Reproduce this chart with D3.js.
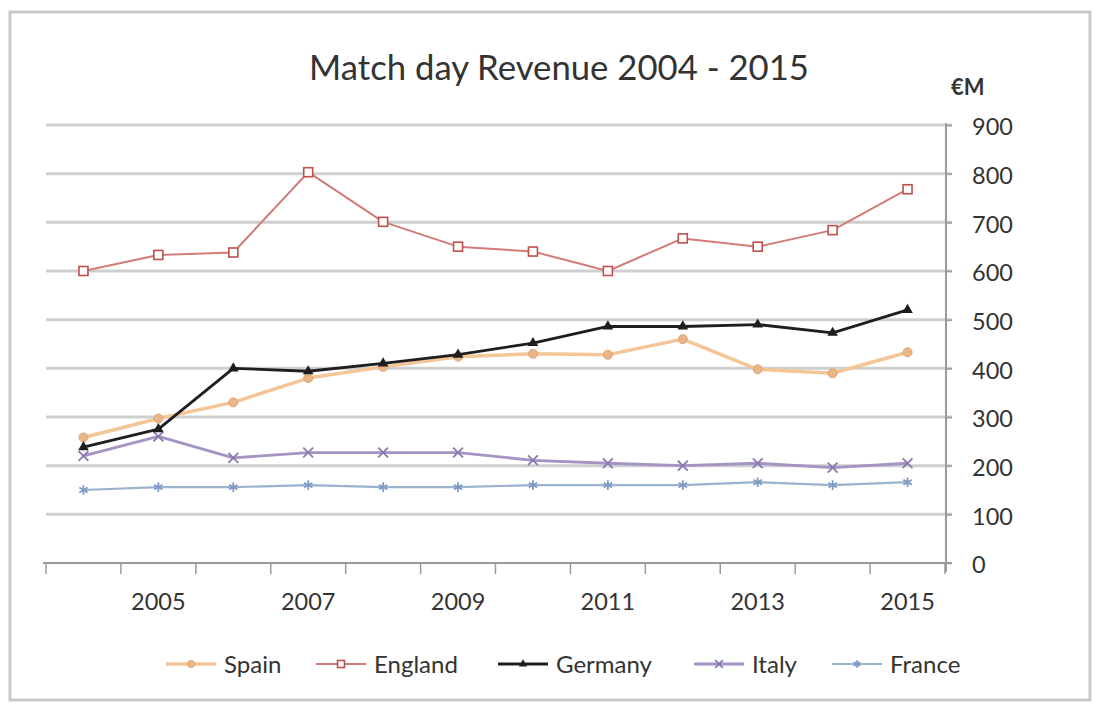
<!DOCTYPE html>
<html>
<head>
<meta charset="utf-8">
<script src="https://cdn.jsdelivr.net/npm/d3@7"></script>
<style>
  html, body { margin: 0; padding: 0; background: #fff; }
  svg { display: block; }
  text { font-family: Lato, "Open Sans", sans-serif; fill: #333; }
</style>
</head>
<body>
<svg id="chart" width="1101" height="705"></svg>
<script>
const years = [2004, 2005, 2006, 2007, 2008, 2009, 2010, 2011, 2012, 2013, 2014, 2015];
const xTickLabels = [2005, 2007, 2009, 2011, 2013, 2015];
const yTicks = [0, 100, 200, 300, 400, 500, 600, 700, 800, 900];

const spain   = [258, 297, 330, 380, 403, 424, 430, 428, 460, 398, 390, 433];
const england = [600, 633, 638, 803, 701, 650, 640, 600, 667, 650, 684, 768];
const germany = [238, 275, 400, 394, 410, 428, 452, 486, 486, 490, 473, 520];
const italy   = [220, 260, 216, 227, 227, 227, 211, 205, 200, 205, 196, 205];
const france  = [150, 156, 156, 160, 156, 156, 160, 160, 160, 166, 160, 166];

const seriesNames = ["Spain", "England", "Germany", "Italy", "France"];
const seriesValues = [spain, england, germany, italy, france];

const styles = {
  Spain:   { color: "#f3c597", width: 3.5, marker: "circle",   mfill: "#eab688", mstroke: "#dfa676" },
  England: { color: "#d27c7a", width: 2,   marker: "square",   mfill: "#ffffff", mstroke: "#c0504d" },
  Germany: { color: "#1e1e1e", width: 2.8, marker: "triangle", mfill: "#1e1e1e", mstroke: "#1e1e1e" },
  Italy:   { color: "#a493c4", width: 2.8, marker: "cross",    mfill: "#8a78b0", mstroke: "#8a78b0" },
  France:  { color: "#9cb2cf", width: 2.2, marker: "star",     mfill: "#7e9cc4", mstroke: "#7e9cc4" }
};

const svg = d3.select("#chart");

// outer border
svg.append("rect").attr("x", 10).attr("y", 12).attr("width", 1080).attr("height", 688)
  .attr("fill", "#fff").attr("stroke", "#c9c9c9").attr("stroke-width", 3);

const x = d3.scaleBand().domain(years).range([46, 945]).padding(0);
const y = d3.scaleLinear().domain([0, 900]).range([563, 125]);
const cx = d => x(d) + x.bandwidth() / 2;

// gridlines
svg.append("g").selectAll("line").data(yTicks.filter(t => t > 0)).join("line")
  .attr("x1", 46).attr("x2", 952)
  .attr("y1", d => y(d)).attr("y2", d => y(d))
  .attr("stroke", "#cfcfcf").attr("stroke-width", 3);

// right axis
const yAxis = d3.axisRight(y).tickValues(yTicks).tickSize(6).tickPadding(20);
const gy = svg.append("g").attr("transform", "translate(946,0)").call(yAxis);
gy.select(".domain").attr("stroke", "#9a9a9a").attr("stroke-width", 2).attr("d", "M0,123V572");
gy.selectAll(".tick line").attr("stroke", "#9a9a9a").attr("stroke-width", 1.5);
gy.selectAll(".tick text").attr("font-size", 23.5).attr("fill", "#444")
  .attr("font-family", "Lato, sans-serif").attr("dy", "0.42em");

// bottom axis
const xAxis = d3.axisBottom(x).tickValues(xTickLabels).tickSize(0).tickPadding(30);
const gx = svg.append("g").attr("transform", "translate(0,563)").call(xAxis);
gx.select(".domain").attr("stroke", "#9a9a9a").attr("stroke-width", 2).attr("d", "M43,0H952");
gx.selectAll(".tick text").attr("font-size", 23.5).attr("fill", "#444").attr("font-family", "Lato, sans-serif");
// category boundary ticks
const bounds = years.map(d => x(d)).concat([x.range()[1]]);
svg.append("g").selectAll("line").data(bounds).join("line")
  .attr("x1", d => d).attr("x2", d => d).attr("y1", 563).attr("y2", 574)
  .attr("stroke", "#9a9a9a").attr("stroke-width", 1.5);

// title
const title = svg.append("text").attr("x", 559).attr("y", 80).attr("text-anchor", "middle")
  .attr("font-size", 34).attr("fill", "#333").text("Match day Revenue 2004 - 2015");
const tw = title.node().getComputedTextLength();
if (tw > 0) title.attr("font-size", 34 * 500 / tw);

svg.append("text").attr("x", 951).attr("y", 95)
  .attr("font-size", 22).attr("font-weight", "bold").attr("fill", "#222").text("€M");

function drawMarker(g, type, px, py, st, s) {
  if (type === "square") {
    g.append("rect").attr("x", px - s/2).attr("y", py - s/2).attr("width", s).attr("height", s)
      .attr("fill", st.mfill).attr("stroke", st.mstroke).attr("stroke-width", 1.6);
  } else if (type === "circle") {
    g.append("circle").attr("cx", px).attr("cy", py).attr("r", s/2)
      .attr("fill", st.mfill).attr("stroke", st.mstroke).attr("stroke-width", 1);
  } else if (type === "triangle") {
    g.append("path").attr("d", d3.symbol(d3.symbolTriangle, s*s*0.6)())
      .attr("transform", `translate(${px},${py})`)
      .attr("fill", st.mfill);
  } else if (type === "cross") {
    g.append("path").attr("d", d3.symbol(d3.symbolX, s*s*0.8)())
      .attr("transform", `translate(${px},${py})`)
      .attr("fill", "none").attr("stroke", st.mstroke).attr("stroke-width", 1.8);
  } else if (type === "star") {
    g.append("path").attr("d", d3.symbol(d3.symbolAsterisk, s*s*0.8)())
      .attr("transform", `translate(${px},${py})`)
      .attr("fill", "none").attr("stroke", st.mstroke).attr("stroke-width", 1.8);
  }
}

const line = d3.line().x((d, i) => cx(years[i])).y(d => y(d));
const order = ["France", "Italy", "Spain", "Germany", "England"];
order.forEach(name => {
  const vals = seriesValues[seriesNames.indexOf(name)];
  const st = styles[name];
  const g = svg.append("g");
  g.append("path").datum(vals).attr("d", line)
    .attr("fill", "none").attr("stroke", st.color).attr("stroke-width", st.width)
    .attr("stroke-linejoin", "round");
  vals.forEach((v, i) => drawMarker(g, st.marker, cx(years[i]), y(v), st, 9));
});

// legend
const legendX = [166, 316, 498, 694, 832];
const legendY = 664;
seriesNames.forEach((name, i) => {
  const st = styles[name];
  const g = svg.append("g");
  const lx = legendX[i];
  g.append("line").attr("x1", lx).attr("x2", lx + 50).attr("y1", legendY).attr("y2", legendY)
    .attr("stroke", st.color).attr("stroke-width", st.width);
  drawMarker(g, st.marker, lx + 25, legendY, st, 7);
  g.append("text").attr("x", lx + 58).attr("y", legendY + 9)
    .attr("font-size", 24).attr("fill", "#333").text(name);
});
</script>
</body>
</html>
